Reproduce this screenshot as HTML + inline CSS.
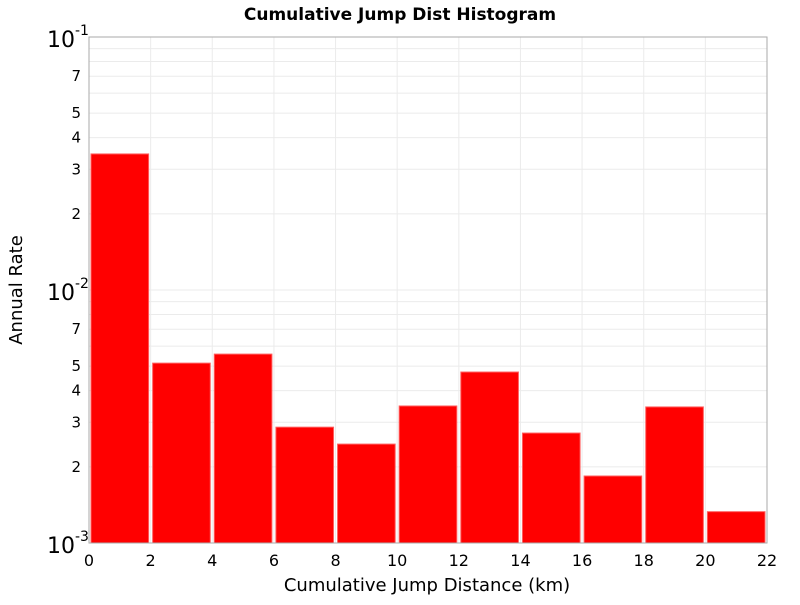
<!DOCTYPE html>
<html><head><meta charset="utf-8"><style>
body{margin:0;background:#fff;}
svg text{font-family:"DejaVu Sans","Liberation Sans",sans-serif;}
</style></head><body>
<svg id="chart" width="800" height="600" xmlns="http://www.w3.org/2000/svg">
<text x="400" y="20" text-anchor="middle" font-size="17" font-weight="bold">Cumulative Jump Dist Histogram</text>
<g id="grid"></g>
<g id="bars"></g>
<rect x="89" y="37" width="678" height="506" fill="none" stroke="#aaa"/>
<g id="axes"></g>
<text x="427" y="591" text-anchor="middle" font-size="18">Cumulative Jump Distance (km)</text>
<text transform="translate(22,290) rotate(-90)" text-anchor="middle" font-size="18">Annual Rate</text>
</svg>
<script>
const binStarts=[0,2,4,6,8,10,12,14,16,18,20];
const binWidth=2;
const rates=[0.0345,0.00514,0.00558,0.00287,0.00246,0.00348,0.00474,0.00272,0.00184,0.00345,0.00133];
const xTicks=[0,2,4,6,8,10,12,14,16,18,20,22];
const yDecades=[-3,-2,-1];
const yMinorLabels=[2,3,4,5,7];
const NS="http://www.w3.org/2000/svg";
const X0=89,X1=767,Y0=543,Y1=37,XMIN=0,XMAX=22,LMIN=-3,LMAX=-1;
function sx(v){return X0+(v-XMIN)/(XMAX-XMIN)*(X1-X0);}
function sy(v){return Y0-(Math.log10(v)-LMIN)/(LMAX-LMIN)*(Y0-Y1);}
function mk(tag,attrs,parent,txt){const e=document.createElementNS(NS,tag);for(const k in attrs)e.setAttribute(k,attrs[k]);if(txt!==undefined)e.textContent=txt;parent.appendChild(e);return e;}
const grid=document.getElementById('grid'),bars=document.getElementById('bars'),axes=document.getElementById('axes');
// horizontal grid
for(let d=LMIN;d<LMAX;d++){for(let m=1;m<10;m++){const v=m*Math.pow(10,d);const y=sy(v);
 const l=mk('line',{x1:X0,x2:X1,y1:y,y2:y,stroke:'#ebebeb','stroke-width':1},grid);
 
 
 if(m>1&&yMinorLabels.includes(m)){const t=mk('text',{x:X0-8,y:y+5,'text-anchor':'end','font-size':15},axes,String(m));
 
 }
}}
yDecades.forEach(d=>{const y=sy(Math.pow(10,d));
 const t=mk('text',{x:X0-14,y:y+10,'text-anchor':'end','font-size':22},axes,'10');
 
 
 const s=mk('text',{x:X0-14,y:y-2,'font-size':14},axes,String(d));
 
 
});
xTicks.forEach(v=>{const x=sx(v);
 const l=mk('line',{x1:x,x2:x,y1:Y1,y2:Y0,stroke:'#ebebeb','stroke-width':1},grid);
 
 
 const t=mk('text',{x:x,y:566,'text-anchor':'middle','font-size':16},axes,String(v));
 
 
});
binStarts.forEach((b,i)=>{const xa=sx(b)+2,xb=sx(b+binWidth)-2;const yt=sy(rates[i]);
 const r=mk('rect',{x:xa,y:yt,width:xb-xa,height:Y0-yt,fill:'#ff0000',stroke:'#ff6060','stroke-width':1},bars);
 
 
});
</script>
</body></html>
